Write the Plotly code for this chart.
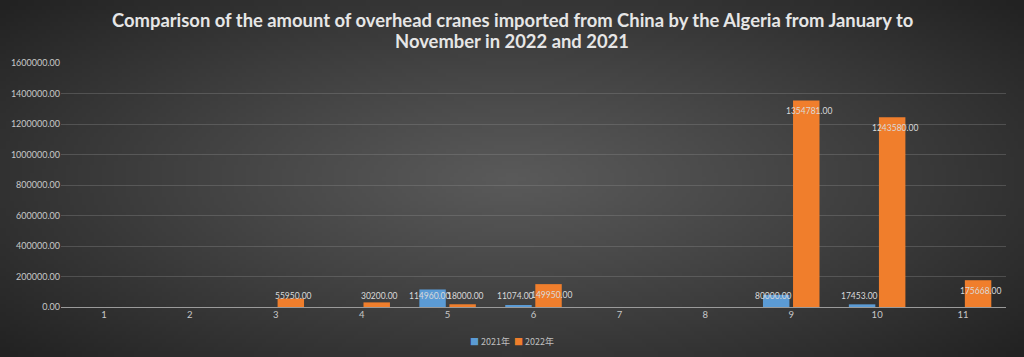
import base64, struct, zlib
import numpy as np
import plotly.graph_objects as go

months = ["1", "2", "3", "4", "5", "6", "7", "8", "9", "10", "11"]
y2021 = [None, None, None, None, 114960, 11074, None, None, 80000, 17453, None]
y2022 = [None, None, 55950, 30200, 18000, 149950, None, None, 1354781, 1243580, 175668]
yticks = [0, 200000, 400000, 600000, 800000, 1000000, 1200000, 1400000, 1600000]
series_names = ["2021年", "2022年"]
series_colors = ["#5b9bd5", "#f07e2c"]
title_lines = ["Comparison of the amount of overhead cranes imported from China by the Algeria from January to",
               "November in 2022 and 2021"]

# background radial gradient image
W, H = 256, 90
xx, yy = np.meshgrid(np.linspace(-1, 1, W), np.linspace(-1, 1, H))
r = np.sqrt(xx ** 2 + (yy * 0.9) ** 2) / np.sqrt(1 + 0.81)
val = (90 - (90 - 34) * np.clip(r, 0, 1) ** 1.1).astype(np.uint8)
rows = b"".join(b"\x00" + bytes(np.stack([val[i]] * 3, axis=1).flatten()) for i in range(H))
def chunk(t, d):
    c = struct.pack(">I", len(d)) + t + d
    return c + struct.pack(">I", zlib.crc32(t + d) & 0xffffffff)
png = b"\x89PNG\r\n\x1a\n" + chunk(b"IHDR", struct.pack(">IIBBBBB", W, H, 8, 2, 0, 0, 0)) \
    + chunk(b"IDAT", zlib.compress(rows)) + chunk(b"IEND", b"")
bg_uri = "data:image/png;base64," + base64.b64encode(png).decode()

PH, PW, ML = 244, 945, 61  # plot height/width, left margin in px
fig = go.Figure()
for name, ser, col in zip(series_names, [y2021, y2022], series_colors):
    fig.add_trace(go.Bar(x=months, y=ser, name=name, marker=dict(color=col, line=dict(width=0))))

# data labels
ymax = yticks[-1]
off = ymax * 11 / PH
for idx, ser in enumerate([y2021, y2022]):
    shift = -0.21 if idx == 0 else 0.21
    for i, v in enumerate(ser):
        if v is None:
            continue
        fig.add_annotation(x=i + shift, y=max(v - off, off), text=f"{v:.2f}", showarrow=False,
                           font=dict(family="Lato, sans-serif", size=8.5, color="#d9d9d9"),
                           xref="x", yref="y")

cx = (512 - ML) / PW  # page centre in paper coords
# title lines
for line, py in zip(title_lines, [20, 41]):
    fig.add_annotation(x=cx, y=1 + (63 - py) / PH, xref="paper", yref="paper", text=f"<b>{line}</b>",
                       showarrow=False, xanchor="center", yanchor="middle",
                       font=dict(family="Lato, sans-serif", size=18.4, color="#e6e6e6"))

# legend drawn as text
legend_text = "  ".join(f"<span style='color:{c}'>■</span> {n}" for n, c in zip(series_names, series_colors))
fig.add_annotation(x=cx, y=-34 / PH, xref="paper", yref="paper", text=legend_text, showarrow=False,
                   font=dict(family="Noto Sans CJK SC, sans-serif", size=9, color="#bfbfbf"),
                   xanchor="center", yanchor="middle")

fig.add_layout_image(dict(source=bg_uri, xref="paper", yref="paper",
                          x=-ML / PW, y=1 + 63 / PH, sizex=1024 / PW, sizey=357 / PH,
                          xanchor="left", yanchor="top", sizing="stretch", layer="below"))

fig.update_layout(
    width=1024, height=357,
    margin=dict(l=ML, r=18, t=63, b=50),
    paper_bgcolor="#3a3a3a", plot_bgcolor="rgba(0,0,0,0)",
    barmode="group", bargap=0.30, bargroupgap=0.12,
    showlegend=False,
    xaxis=dict(type="category", tickfont=dict(family="Lato, sans-serif", size=9.5, color="#c8c8c8"),
               showgrid=False, ticks="", showline=False, fixedrange=True),
    yaxis=dict(range=[0, ymax], tickvals=yticks, tickformat=".2f",
               tickfont=dict(family="Lato, sans-serif", size=9, color="#c8c8c8"),
               showgrid=True, gridcolor="rgba(140,140,140,0.35)", gridwidth=1,
               zeroline=True, zerolinecolor="#9a9a9a", zerolinewidth=1, ticks="", ticklen=0),
)

fig.write_html("out.html", config={"displayModeBar": False},
               post_script="document.body.style.margin='0';document.body.style.overflow='hidden';")
